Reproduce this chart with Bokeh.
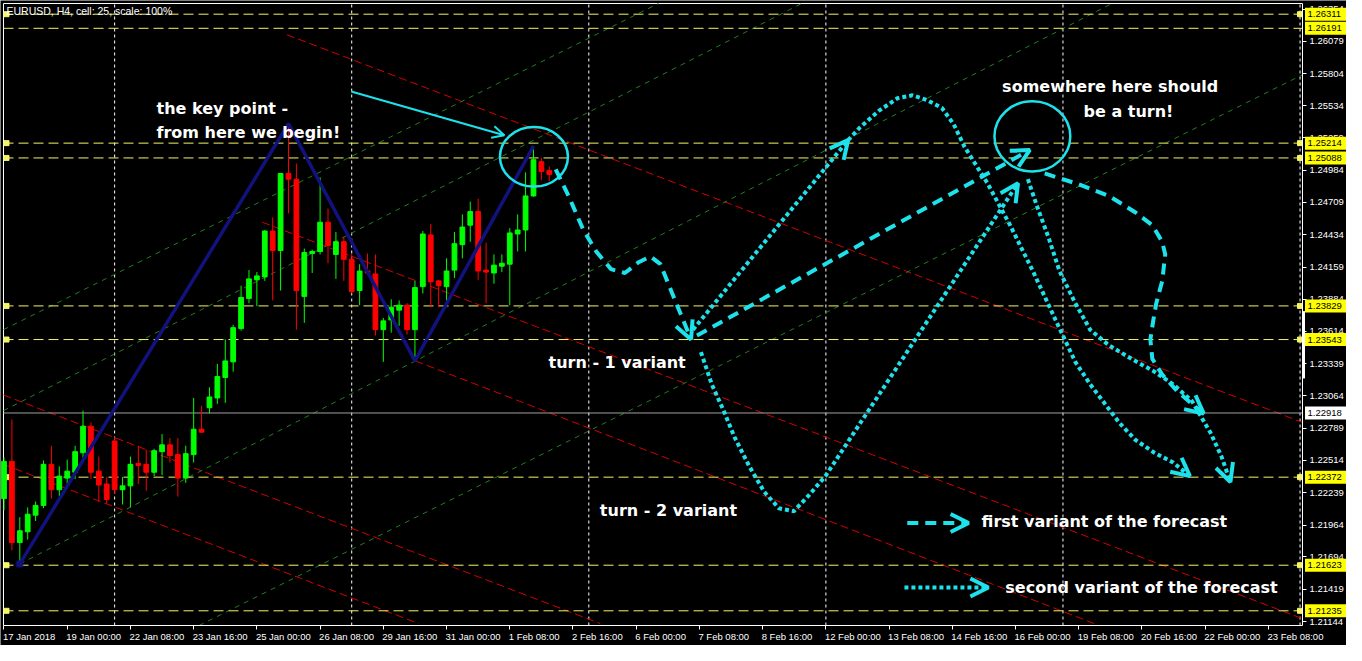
from bokeh.plotting import figure
from bokeh.models import (Range1d, FixedTicker, PrintfTickFormatter, Label, LinearAxis,
                          Arrow, OpenHead, ColumnDataSource, CustomJSTickFormatter)
from bokeh.embed import file_html
from bokeh.resources import INLINE
from bokeh.core.properties import value

# ---------------- data ----------------
opens = [1.22190, 1.22506, 1.21816, 1.21907, 1.22049, 1.22132, 1.22481, 1.22265, 1.22364, 1.22414,
         1.22580, 1.22805, 1.22423, 1.22314, 1.22680, 1.22265, 1.22298, 1.22489, 1.22481, 1.22414,
         1.22589, 1.22647, 1.22564, 1.22364, 1.22564, 1.22780, 1.22963, 1.23046, 1.23220, 1.23353,
         1.23636, 1.23893, 1.24051, 1.24076, 1.24466, 1.24300, 1.24956, 1.24907, 1.23910, 1.24275,
         1.24292, 1.24541, 1.24267, 1.24375, 1.24225, 1.23960, 1.24126, 1.24101, 1.23627, 1.23710,
         1.23793, 1.23835, 1.23627, 1.23993, 1.24433, 1.24042, 1.23993, 1.24134, 1.24350, 1.24516,
         1.24632, 1.24134, 1.24109, 1.24167, 1.24184, 1.24441, 1.24475, 1.24765, 1.25056, 1.24982]
highs = [1.22539, 1.22863, 1.22032, 1.22115, 1.22165, 1.22514, 1.22639, 1.22464, 1.22522, 1.22639,
         1.22938, 1.22838, 1.22547, 1.22373, 1.22713, 1.22373, 1.22547, 1.22639, 1.22605, 1.22614,
         1.22738, 1.22705, 1.22705, 1.22639, 1.23046, 1.22979, 1.23137, 1.23336, 1.23544, 1.23669,
         1.24001, 1.24134, 1.24117, 1.24475, 1.24583, 1.24956, 1.25380, 1.25040, 1.24317, 1.24308,
         1.24923, 1.24657, 1.24458, 1.24416, 1.24275, 1.24184, 1.24275, 1.24267, 1.23727, 1.23885,
         1.23876, 1.23852, 1.24042, 1.24466, 1.24525, 1.24051, 1.24234, 1.24458, 1.24608, 1.24716,
         1.24740, 1.24367, 1.24267, 1.24267, 1.24491, 1.24608, 1.24965, 1.25189, 1.25089, 1.25015]
lows = [1.22090, 1.21750, 1.21634, 1.21841, 1.21999, 1.22107, 1.22190, 1.22207, 1.22314, 1.22356,
        1.22539, 1.22356, 1.22165, 1.22148, 1.22232, 1.22140, 1.22115, 1.22314, 1.22256, 1.22381,
        1.22389, 1.22497, 1.22207, 1.22323, 1.22497, 1.22747, 1.22913, 1.22996, 1.23004, 1.23270,
        1.23619, 1.23852, 1.23827, 1.24042, 1.23876, 1.23960, 1.24616, 1.23627, 1.23685, 1.24109,
        1.24267, 1.24192, 1.24059, 1.24042, 1.23935, 1.23835, 1.24101, 1.23577, 1.23353, 1.23602,
        1.23660, 1.23586, 1.23361, 1.23935, 1.23818, 1.23818, 1.23818, 1.24067, 1.24234, 1.24375,
        1.24051, 1.23852, 1.24018, 1.24117, 1.23835, 1.24292, 1.24292, 1.24757, 1.24898, 1.24890]
closes = [1.22506, 1.21816, 1.21916, 1.22057, 1.22132, 1.22481, 1.22265, 1.22381, 1.22423, 1.22589,
          1.22805, 1.22414, 1.22306, 1.22182, 1.22265, 1.22298, 1.22481, 1.22472, 1.22414, 1.22597,
          1.22647, 1.22556, 1.22364, 1.22572, 1.22780, 1.22755, 1.23054, 1.23228, 1.23361, 1.23644,
          1.23901, 1.24059, 1.24084, 1.24466, 1.24300, 1.24956, 1.24907, 1.23960, 1.24283, 1.24292,
          1.24541, 1.24342, 1.24375, 1.24225, 1.23952, 1.24126, 1.24109, 1.23627, 1.23702, 1.23818,
          1.23835, 1.23627, 1.23985, 1.24441, 1.24034, 1.24001, 1.24126, 1.24358, 1.24500, 1.24632,
          1.24126, 1.24117, 1.24176, 1.24192, 1.24450, 1.24475, 1.24765, 1.25073, 1.24973, 1.24948]

zigzag_bars = [2, 36, 52, 67]

time_labels = ["17 Jan 2018", "19 Jan 00:00", "22 Jan 08:00", "23 Jan 16:00", "25 Jan 00:00",
               "26 Jan 08:00", "29 Jan 16:00", "31 Jan 00:00", "1 Feb 08:00", "2 Feb 16:00",
               "6 Feb 00:00", "7 Feb 08:00", "8 Feb 16:00", "12 Feb 00:00", "13 Feb 08:00",
               "14 Feb 16:00", "16 Feb 00:00", "19 Feb 08:00", "20 Feb 16:00", "22 Feb 00:00",
               "23 Feb 08:00"]
label_step = 8
week_starts = [14, 44, 74, 104, 134, 164]

price_ticks = [1.26354, 1.26079, 1.25804, 1.25534, 1.25259, 1.24984, 1.24709, 1.24434, 1.24159,
               1.23884, 1.23614, 1.23339, 1.23064, 1.22789, 1.22514, 1.22239, 1.21964, 1.21694,
               1.21419, 1.21144]

levels = [1.26311, 1.26191, 1.25214, 1.25088, 1.23829, 1.23543, 1.22372, 1.21623, 1.21235]
level_anchored = [True, False, True, True, True, True, True, True, True]
bid = 1.22918
scale_mark = [1.23212, 1.23785]

# channel lines (bar, price) start -> end
red_x0 = [35.81, 32.69, -0.06, -0.06, 52.06]
red_y0 = [1.26136, 1.24541, 1.23071, 1.22481, 1.23361]
red_x1 = [164.31, 164.31, 75.44, 52.44, 137.94]
red_y1 = [1.22838, 1.21168, 1.21127, 1.21127, 1.21127]

green_x0 = [-0.06, -0.06, 2.0, 24.69]
green_y0 = [1.22938, 1.23627, 1.21634, 1.21110]
green_x1 = [100.94, 82.81, 140.19, 164.31]
green_y1 = [1.26402, 1.26402, 1.26402, 1.25796]

# forecast drawings (bar, price)
dash_a_x = [69.81, 71.44, 73.31, 74.94, 76.81, 78.56, 80.31, 81.81, 83.06, 84.56, 86.94]
dash_a_y = [1.24990, 1.24765, 1.24475, 1.24292, 1.24142, 1.24109, 1.24201, 1.24250, 1.24184, 1.23935, 1.23544]
dash_b_x = [87.69, 129.81]
dash_b_y = [1.23577, 1.25156]
dash_c_x = [131.69, 135.94, 139.81, 143.19, 145.31, 146.56, 146.94, 146.56, 145.81, 145.44, 145.06,
            145.31, 146.56, 148.44, 150.31, 151.81]
dash_c_y = [1.24956, 1.24865, 1.24765, 1.24624, 1.24516, 1.24375, 1.24267, 1.24042, 1.23852, 1.23710,
            1.23544, 1.23378, 1.23245, 1.23104, 1.22996, 1.22913]

dot_d_x = [87.19, 106.81]
dot_d_y = [1.23627, 1.25239]
dot_e_x = [88.19, 89.56, 91.06, 92.44, 94.31, 96.19, 98.06, 99.94, 101.81, 103.94, 128.31]
dot_e_y = [1.23436, 1.23162, 1.22938, 1.22713, 1.22464, 1.22248, 1.22107, 1.22082, 1.22215, 1.22381, 1.24873]
dot_f_x = [106.81, 108.31, 110.69, 113.06, 114.94, 116.81, 118.69, 120.19, 121.56, 124.44, 127.31,
           130.19, 133.06, 135.56, 137.44, 139.31, 141.19, 143.19, 145.56, 147.94, 150.06]
dot_f_y = [1.25239, 1.25347, 1.25488, 1.25596, 1.25621, 1.25580, 1.25513, 1.25372, 1.25181, 1.24873,
           1.24516, 1.24126, 1.23710, 1.23353, 1.23162, 1.22996, 1.22830, 1.22688, 1.22580, 1.22497, 1.22381]
dot_g_x = [129.56, 130.69, 132.19, 133.56, 135.56, 137.44, 139.81, 142.69, 145.56, 147.94, 150.31,
           152.69, 154.06, 155.19]
dot_g_y = [1.24907, 1.24682, 1.24408, 1.24126, 1.23852, 1.23627, 1.23494, 1.23378, 1.23270, 1.23162,
           1.23021, 1.22747, 1.22547, 1.22331]

pointer_x = [43.94, 63.31]
pointer_y = [1.25654, 1.25281]

circle_x = [67.06, 130.13]
circle_y = [1.25098, 1.25272]
circle_w = [8.6, 9.6]
circle_h = [0.00507, 0.00598]

notes = ["the key point -", "from here we begin!", "somewhere here should", "be a turn!",
         "turn - 1 variant", "turn - 2 variant", "first variant of the forecast",
         "second variant of the forecast"]
notes_x = [19.3, 19.3, 126.3, 136.6, 68.9, 75.4, 123.7, 126.7]
notes_y = [1.25505, 1.25305, 1.25696, 1.25480, 1.23345, 1.22090, 1.21999, 1.21434]

legend_dash_x = [114.3, 122.06]
legend_dash_y = [1.21982, 1.21982]
legend_dot_x = [113.94, 124.56]
legend_dot_y = [1.21434, 1.21434]

title_text = "EURUSD, H4, cell: 25, scale: 100%"

# ---------------- layout ----------------
X0, X1 = -0.0625, 164.31          # chart area in bars
Y0, Y1 = 1.21110, 1.26402         # chart area in price
W, H = 1346, 645                  # whole canvas
PAD_L, PAD_T = 3, 3               # margin left/top of chart area (px)
CHART_W, CHART_H = 1299, 622      # chart area size (px)
ppb = CHART_W / (X1 - X0)
ppp = CHART_H / (Y1 - Y0)

CYAN = "#1de2ec"
YEL = "#f4f468"
BULL, BEAR = "#00ff00", "#ff0000"
AXFONT = "Liberation Sans"
AXSIZE = "9.5px"

p = figure(width=W, height=H,
           x_range=Range1d(X0 - PAD_L / ppb, X0 + (W - PAD_L) / ppb),
           y_range=Range1d(Y1 - (H - PAD_T) / ppp, Y1 + PAD_T / ppp),
           output_backend="svg", toolbar_location=None, y_axis_location="right",
           min_border=0, min_border_left=0, min_border_right=0, min_border_top=0, min_border_bottom=0,
           background_fill_color="black", border_fill_color="black", outline_line_color=None)
p.grid.visible = False

# ---- axes drawn at the chart edges ----
yax = p.yaxis[0]
yax.fixed_location = X1
yax.bounds = (Y0, Y1)
yax.ticker = FixedTicker(ticks=price_ticks)
yax.formatter = PrintfTickFormatter(format="%.5f")
xax = p.xaxis[0]
xax.fixed_location = Y0
xax.bounds = (X0, X1)
xax.ticker = FixedTicker(ticks=[i * label_step for i in range(len(time_labels))])
xax.major_label_text_color = None
for ax in (yax, xax):
    ax.axis_line_color = "white"
    ax.major_tick_line_color = "white"
    ax.major_tick_out = 4
    ax.major_tick_in = 0
    ax.minor_tick_line_color = None
    ax.major_label_text_font = AXFONT
    ax.major_label_text_font_size = AXSIZE
yax.major_label_text_color = "white"
yax.major_label_standoff = 3

# time labels: left-aligned to their tick (axis labels are centred, so shift by half width)
_cw = {c: 0.556 for c in "0123456789"}
_cw.update({" ": 0.278, ":": 0.278, "J": 0.5, "a": 0.556, "n": 0.556, "F": 0.611, "e": 0.556, "b": 0.556})
fs = float(AXSIZE.replace("px", ""))
label_pos = []
for i, t in enumerate(time_labels):
    w = sum(_cw.get(c, 0.556) for c in t) * fs
    label_pos.append(i * label_step + (w / 2 - 1) / ppb)
lab_ax = LinearAxis(fixed_location=Y0, bounds=(X0, X1), ticker=FixedTicker(ticks=label_pos),
                    formatter=CustomJSTickFormatter(args=dict(labels=time_labels), code="return labels[index]"),
                    axis_line_color=None, major_tick_line_color=None, minor_tick_line_color=None,
                    major_tick_out=4, major_tick_in=0, major_label_standoff=1,
                    major_label_text_color="white", major_label_text_font=AXFONT,
                    major_label_text_font_size=AXSIZE)
p.add_layout(lab_ax, "below")

# left and top borders of the chart area, and the scale marker on the right border
p.segment(x0=[X0, X0], y0=[Y0, Y1], x1=[X0, X1], y1=[Y1, Y1], line_color="white", line_width=1)
p.segment(x0=[X1 + 1 / ppb], y0=[scale_mark[0]], x1=[X1 + 1 / ppb], y1=[scale_mark[1]],
          line_color="white", line_width=3)

# week separators
p.segment(x0=week_starts, y0=[Y0] * len(week_starts), x1=week_starts, y1=[Y1] * len(week_starts),
          line_color="white", line_dash="3 3", line_width=1)

# channels
p.segment(red_x0, red_y0, red_x1, red_y1, line_color="#d40000", line_dash="8 4", line_width=1)
p.segment(green_x0, green_y0, green_x1, green_y1, line_color="#1f7f1f", line_dash="5 5", line_width=1)

# horizontal levels
nl = len(levels)
p.segment([X0] * nl, levels, [X1] * nl, levels, line_color=YEL, line_dash="10 5", line_width=1)
anch = [lv for lv, a in zip(levels, level_anchored) if a]
p.scatter([X0 + 3 / ppb] * len(anch), anch, marker="square", size=5, color=YEL)
p.scatter([X1 - 2.5 / ppb] * len(anch), anch, marker="square", size=5, color=YEL)
p.segment([X0], [bid], [X1], [bid], line_color="#a0a0a0", line_width=1)

# candles
n = len(opens)
idx = list(range(n))
cols = [BULL if c >= o else BEAR for o, c in zip(opens, closes)]
src = ColumnDataSource(dict(x=idx, o=opens, h=highs, l=lows, c=closes,
                            top=[max(o, c) for o, c in zip(opens, closes)],
                            bot=[min(o, c) for o, c in zip(opens, closes)], col=cols))
p.segment("x", "h", "x", "l", source=src, line_color="col", line_width=1)
p.vbar(x="x", top="top", bottom="bot", width=0.6, source=src, fill_color="col", line_color="col")

# zigzag
zz_y = []
for k, b in enumerate(zigzag_bars):
    zz_y.append(lows[b] if k % 2 == 0 else highs[b])
p.line(zigzag_bars, zz_y, line_color="#12127e", line_width=3.5)
p.scatter([zigzag_bars[0]], [zz_y[0]], marker="square", size=6, color="#12127e")

# forecast drawings
def path(xs, ys, dash, head=True, width=4, size=18):
    p.line(xs, ys, line_color=CYAN, line_width=width, line_dash=dash)
    if head:
        p.add_layout(Arrow(x_start=xs[-2], y_start=ys[-2], x_end=xs[-1], y_end=ys[-1],
                           line_color=CYAN, line_width=width, line_alpha=0,
                           end=OpenHead(size=size, line_color=CYAN, line_width=width)))

DASH = "11 7"
DOT = "4 3"
path(dash_a_x, dash_a_y, DASH)
path(dash_b_x, dash_b_y, DASH)
path(dash_c_x, dash_c_y, DASH)
path(dot_d_x, dot_d_y, DOT)
path(dot_e_x, dot_e_y, DOT)
path(dot_f_x, dot_f_y, DOT)
path(dot_g_x, dot_g_y, DOT)
path(legend_dash_x, legend_dash_y, DASH)
path(legend_dot_x, legend_dot_y, DOT)
path(pointer_x, pointer_y, "solid", width=2, size=12)

p.ellipse(x=circle_x, y=circle_y, width=circle_w, height=circle_h,
          fill_color=None, line_color=CYAN, line_width=2.5)

p.text(x=notes_x, y=notes_y, text=notes, text_color="white", text_font=value("DejaVu Sans"),
       text_font_style="bold", text_font_size="16px", text_baseline="middle", text_align="left")

# price boxes on the price scale (drawn above the scale labels)
box_y = levels + [bid]
box_fill = ["#ffff00"] * nl + ["white"]
box_txt = [f"{v:.5f}" for v in box_y]
p.rect(x=[X1 + 23 / ppb] * len(box_y), y=box_y, width=41, height=13,
       width_units="screen", height_units="screen", fill_color=box_fill, line_color=None,
       level="overlay")
p.text(x=[X1 + 5 / ppb] * len(box_y), y=box_y, text=box_txt, text_color="black",
       text_font=value(AXFONT), text_font_size=AXSIZE, text_baseline="middle", text_align="left",
       level="overlay")

p.add_layout(Label(x=6, y=H - 10, x_units="screen", y_units="screen", text=title_text,
                   text_baseline="middle", text_align="left", text_color="white",
                   text_font=AXFONT, text_font_size="10.5px"))

open("out.html", "w").write(file_html(p, INLINE))
